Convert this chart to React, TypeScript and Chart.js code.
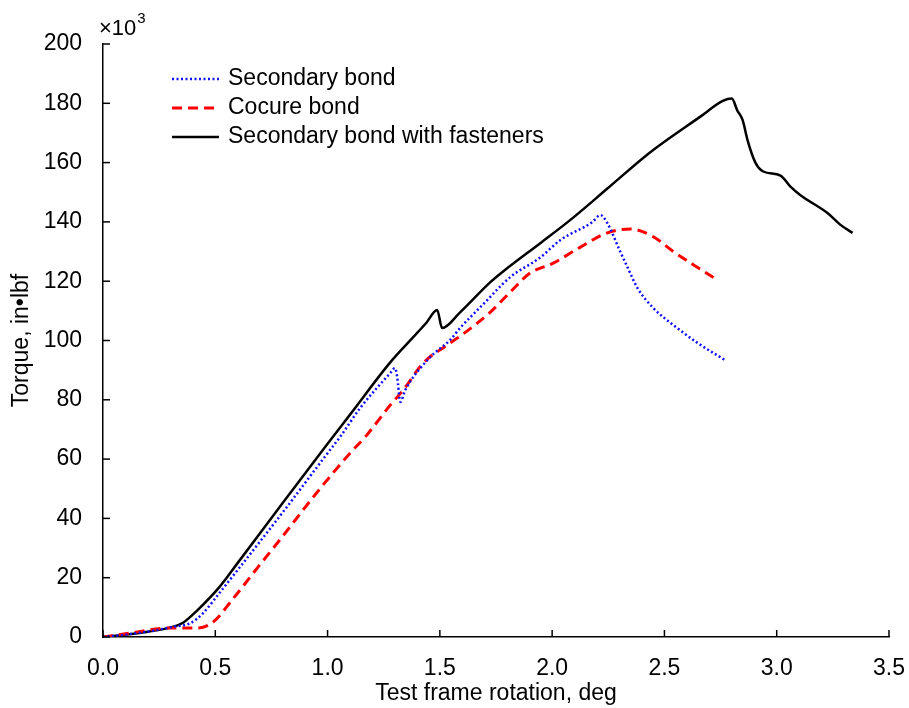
import React, { useEffect, useRef } from "react";
import { Chart, registerables } from "chart.js";

Chart.register(...registerables);

const secondaryX = [0, 0.1, 0.2, 0.31, 0.39, 0.445, 0.52, 0.61, 0.8, 1.0, 1.056, 1.145, 1.279, 1.3, 1.31, 1.324, 1.346, 1.457, 1.546, 1.59, 1.69, 1.814, 1.947, 2.037, 2.18, 2.215, 2.246, 2.3, 2.335, 2.38, 2.45, 2.54, 2.647, 2.77];
const secondaryY = [0, 0.8, 1.8, 3.4, 4.7, 8, 15, 23.6, 42, 62, 67.5, 77.2, 89, 90.7, 87.7, 79.3, 83.3, 94.4, 100.2, 104.2, 112, 121.4, 128, 133.9, 140, 142.3, 139.6, 130.5, 124.8, 117.7, 111, 105.2, 99.2, 93.4];

const cocureX = [0, 0.12, 0.285, 0.42, 0.49, 0.58, 0.7, 0.79, 0.95, 1.1, 1.168, 1.279, 1.337, 1.426, 1.533, 1.6, 1.725, 1.814, 1.903, 2.005, 2.126, 2.246, 2.35, 2.45, 2.54, 2.63, 2.736];
const cocureY = [0, 1.3, 3, 3, 5, 13, 24.5, 33, 48.5, 62, 67.5, 78.2, 83.3, 92.4, 98.5, 102, 109.6, 116.4, 122.8, 126.1, 131.5, 136.3, 137.6, 135, 130, 125.5, 120.4];

const fastenX = [0, 0.1, 0.2, 0.31, 0.36, 0.42, 0.52, 0.6, 0.8, 1.0, 1.1, 1.28, 1.37, 1.44, 1.488, 1.51, 1.59, 1.725, 1.79, 1.95, 2.08, 2.25, 2.437, 2.66, 2.76, 2.8, 2.825, 2.848, 2.87, 2.905, 2.94, 3.017, 3.06, 3.106, 3.226, 3.284, 3.338];
const fastenY = [0, 0.8, 1.8, 3.4, 5, 9, 17, 25, 45.2, 65.2, 75, 92.7, 100.2, 106, 110.3, 104.2, 109.5, 119.7, 123.8, 133, 140.6, 151.5, 163.5, 175.5, 180.8, 181.6, 177.5, 174.4, 167.6, 160, 157, 155.6, 152, 149, 143, 139, 136.3];

const seriesLabels = ["Secondary bond", "Cocure bond", "Secondary bond with fasteners"];
const xTickValues = [0, 0.5, 1.0, 1.5, 2.0, 2.5, 3.0, 3.5];
const yTickValues = [0, 20, 40, 60, 80, 100, 120, 140, 160, 180, 200];
const xTitle = "Test frame rotation, deg";
const yTitle = "Torque, in\u2022lbf";
const FONT = "'Liberation Sans', Arial, Helvetica, sans-serif";

function pts(xs: number[], ys: number[]) {
  return xs.map((x, i) => ({ x, y: ys[i] }));
}

const overlayPlugin = {
  id: "overlay",
  afterDraw(chart: any) {
    const ctx = chart.ctx;
    const xs = chart.scales.x;
    const ys = chart.scales.y;
    const area = chart.chartArea;
    ctx.save();
    ctx.strokeStyle = "#000";
    ctx.lineWidth = 1.5;
    ctx.setLineDash([]);
    xTickValues.forEach((v) => {
      const px = xs.getPixelForValue(v);
      ctx.beginPath();
      ctx.moveTo(px, area.bottom);
      ctx.lineTo(px, area.bottom - 7);
      ctx.stroke();
    });
    yTickValues.forEach((v) => {
      const py = ys.getPixelForValue(v);
      ctx.beginPath();
      ctx.moveTo(area.left, py);
      ctx.lineTo(area.left + 7, py);
      ctx.stroke();
    });
    ctx.fillStyle = "#000";
    ctx.textBaseline = "alphabetic";
    ctx.textAlign = "left";
    ctx.font = `22px ${FONT}`;
    ctx.fillText("\u00d710", 99, 35);
    const w = ctx.measureText("\u00d710").width;
    ctx.font = `15px ${FONT}`;
    ctx.fillText("3", 99 + w + 1, 23);
    const rows = [79, 108, 137];
    chart.data.datasets.forEach((ds: any, i: number) => {
      const y = rows[i];
      ctx.strokeStyle = ds.borderColor;
      ctx.lineWidth = ds.borderWidth;
      ctx.setLineDash(ds.borderDash || []);
      ctx.beginPath();
      ctx.moveTo(172, y);
      ctx.lineTo(219, y);
      ctx.stroke();
      ctx.setLineDash([]);
      ctx.fillStyle = "#000";
      ctx.font = `23px ${FONT}`;
      ctx.textBaseline = "middle";
      ctx.fillText(ds.label, 228, y);
    });
    ctx.restore();
  },
};

export default function App() {
  const ref = useRef<HTMLCanvasElement | null>(null);
  useEffect(() => {
    if (!ref.current) return;
    const chart = new Chart(ref.current, {
      type: "line",
      data: {
        datasets: [
          {
            label: seriesLabels[0],
            data: pts(secondaryX, secondaryY),
            borderColor: "#1010ff",
            borderWidth: 2.5,
            borderDash: [2, 2.5],
            pointRadius: 0,
            cubicInterpolationMode: "monotone",
          },
          {
            label: seriesLabels[1],
            data: pts(cocureX, cocureY),
            borderColor: "#ff0000",
            borderWidth: 3,
            borderDash: [10, 6],
            pointRadius: 0,
            cubicInterpolationMode: "monotone",
          },
          {
            label: seriesLabels[2],
            data: pts(fastenX, fastenY),
            borderColor: "#000000",
            borderWidth: 2.5,
            pointRadius: 0,
            cubicInterpolationMode: "monotone",
          },
        ] as any,
      },
      options: {
        animation: false,
        responsive: false,
        maintainAspectRatio: false,
        layout: { padding: { top: 44, right: 20, left: 0, bottom: 0 } },
        plugins: {
          legend: { display: false },
          tooltip: { enabled: false },
        },
        scales: {
          x: {
            type: "linear",
            min: 0,
            max: 3.5,
            afterBuildTicks: (s: any) => {
              s.ticks = xTickValues.map((v) => ({ value: v }));
            },
            afterFit: (s: any) => {
              s.height = 71;
              s.paddingLeft = 0;
              s.paddingRight = 0;
            },
            grid: { display: false },
            border: { display: true, color: "#000", width: 1.5 },
            ticks: {
              padding: 10,
              color: "#000",
              font: { family: FONT, size: 23 },
              callback: (v: any) => Number(v).toFixed(1),
              maxRotation: 0,
              autoSkip: false,
            },
            title: {
              display: true,
              text: xTitle,
              color: "#000",
              font: { family: FONT, size: 23 },
              padding: { top: 0, bottom: 1 },
            },
          },
          y: {
            type: "linear",
            min: 0,
            max: 200,
            afterBuildTicks: (s: any) => {
              s.ticks = yTickValues.map((v) => ({ value: v }));
            },
            afterFit: (s: any) => {
              s.width = 103;
              s.paddingTop = 0;
              s.paddingBottom = 0;
            },
            grid: { display: false },
            border: { display: true, color: "#000", width: 1.5 },
            ticks: {
              padding: 13,
              color: "#000",
              font: { family: FONT, size: 23 },
              callback: (v: any) => String(v),
              autoSkip: false,
            },
            title: {
              display: true,
              text: yTitle,
              color: "#000",
              font: { family: FONT, size: 23 },
              padding: { top: 8, bottom: 0 },
            },
          },
        },
      } as any,
      plugins: [overlayPlugin],
    });
    return () => chart.destroy();
  }, []);
  return (
    <div style={{ position: "fixed", left: 0, top: 0, width: 909, height: 708, background: "#fff" }}>
      <canvas ref={ref} width={909} height={708} style={{ width: 909, height: 708, display: "block" }} />
    </div>
  );
}
